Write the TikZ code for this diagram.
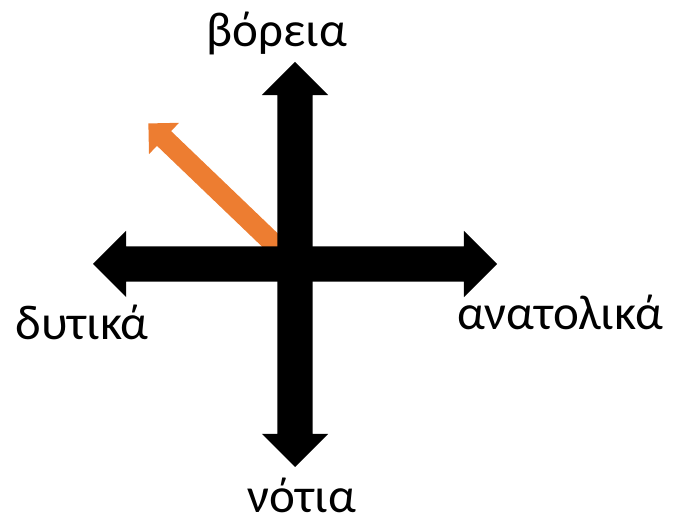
\documentclass[tikz,border=0pt]{standalone}
\usepackage{fontspec}
\setmainfont{Carlito}
\usetikzlibrary{shapes.arrows}

\begin{document}
\begin{tikzpicture}[x=1pt,y=1pt,
  bigarrow/.style={double arrow, fill=black, draw=none, inner xsep=0pt, inner ysep=17.5pt,
    double arrow head extend=15.5pt, double arrow head indent=0pt},
  pointer/.style={single arrow, fill=pointerorange, draw=none, inner xsep=0pt, inner ysep=10pt,
    single arrow head extend=11.5pt, single arrow head indent=0pt},
  direction/.style={anchor=base, inner sep=0pt, font=\fontsize{49}{52}\selectfont}]
  \definecolor{pointerorange}{HTML}{ED7D31}
  \useasboundingbox (0,0) rectangle (680,530);
  % orange pointer behind the cross
  \node[pointer, minimum height=198pt, rotate=136.2] (northwest) at (223.5,334.5) {};
  % the cross
  \node[bigarrow, minimum height=404pt] (eastwest) at (295,266) {};
  \node[bigarrow, minimum height=405pt, rotate=90] (northsouth) at (295,265.5) {};
  % labels
  \node[direction] (north) at (277,483) {βόρεια};
  \node[direction] (south) at (302,17) {νότια};
  \node[direction] (west) at (82,190) {δυτικά};
  \node[direction] (east) at (560,200) {ανατολικά};
\end{tikzpicture}
\end{document}
